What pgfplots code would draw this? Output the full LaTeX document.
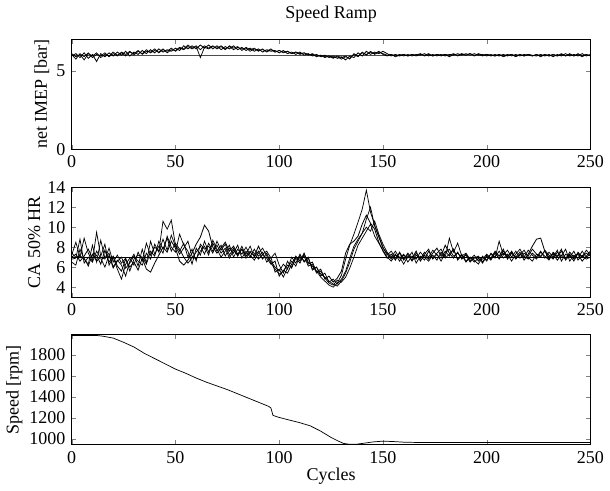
\documentclass[border=0pt]{standalone}
\usepackage{fontspec}
\setmainfont{Liberation Serif}
\usepackage{pgfplots}
\usepackage{pgfplotstable}
\pgfplotsset{compat=1.18}

\pgfplotstableread{
x a b c
0 6.05 5.95 6.10
2 5.75 6.10 5.90
4 6.10 5.85 6.05
6 5.90 6.15 5.70
8 6.15 5.80 6.10
10 5.85 6.05 5.95
12 6.05 5.60 6.15
14 5.95 6.10 5.85
16 6.15 5.90 6.05
18 5.90 6.15 5.95
20 6.10 5.95 6.20
22 5.95 6.20 6.00
24 6.20 6.00 6.15
26 6.05 6.25 5.95
28 6.25 5.95 6.20
30 6.00 6.20 6.10
32 6.25 6.05 6.30
34 6.10 6.30 6.05
36 6.35 6.10 6.25
38 6.15 6.35 6.20
40 6.30 6.15 6.40
42 6.20 6.40 6.15
44 6.40 6.20 6.35
46 6.15 6.35 6.25
48 6.35 6.25 6.45
50 6.30 6.45 6.25
52 6.50 6.30 6.45
54 6.40 6.60 6.35
56 6.65 6.40 6.55
58 6.45 6.60 6.40
60 6.60 6.40 6.55
62 6.35 6.65 5.85
64 6.60 6.45 6.50
66 6.45 6.65 6.40
68 6.60 6.40 6.55
70 6.40 6.60 6.45
72 6.55 6.35 6.60
74 6.35 6.55 6.40
76 6.60 6.40 6.55
78 6.45 6.60 6.35
80 6.55 6.35 6.50
82 6.30 6.50 6.40
84 6.50 6.30 6.45
86 6.35 6.45 6.25
88 6.45 6.25 6.40
90 6.25 6.40 6.30
92 6.40 6.20 6.35
94 6.20 6.35 6.25
96 6.35 6.25 6.40
98 6.20 6.30 6.20
100 6.30 6.15 6.30
102 6.15 6.30 6.20
104 6.25 6.10 6.25
106 6.10 6.20 6.10
108 6.20 6.05 6.20
110 6.05 6.20 6.10
112 6.15 6.00 6.15
114 6.00 6.10 6.05
116 6.10 5.95 6.05
118 5.95 6.05 5.90
120 6.00 5.90 6.00
122 5.90 6.00 5.85
124 5.95 5.85 5.95
126 5.85 5.95 5.80
128 5.90 5.80 5.95
130 5.75 5.90 5.85
132 5.90 5.70 5.95
134 5.80 5.95 5.75
136 6.05 5.85 6.10
138 5.90 6.15 5.95
140 6.20 5.95 6.15
142 6.00 6.25 6.05
144 6.25 6.05 6.20
146 6.05 6.20 6.10
148 6.20 6.10 6.25
150 6.10 6.25 6.05
152 6.00 6.10 5.95
154 6.05 5.95 6.05
156 5.95 6.05 5.90
158 6.05 5.95 6.00
160 5.95 6.05 6.05
162 6.05 5.95 5.95
164 5.95 6.05 6.05
166 6.05 6.00 5.95
168 6.00 6.10 6.05
170 6.10 5.95 6.00
172 5.95 6.05 6.10
174 6.05 5.95 5.95
176 5.95 6.05 6.05
178 6.05 6.00 5.95
180 5.95 6.05 6.05
182 6.05 5.90 6.00
184 6.00 6.05 6.10
186 6.10 6.00 5.95
188 6.00 6.10 6.05
190 6.10 6.00 6.00
192 6.00 6.10 6.10
194 6.10 5.95 6.00
196 6.00 6.10 6.05
198 6.05 6.00 5.95
200 5.95 6.05 6.05
202 6.05 5.95 6.00
204 5.95 6.05 5.95
206 6.05 5.95 6.05
208 5.95 6.05 5.90
210 6.05 5.95 6.00
212 5.95 6.05 6.05
214 6.05 5.90 5.95
216 5.95 6.05 6.05
218 6.05 5.95 5.95
220 6.00 6.05 6.05
222 5.95 6.00 5.95
224 6.05 5.95 6.05
226 5.95 6.05 5.90
228 6.05 5.95 6.05
230 5.95 6.05 5.95
232 6.05 5.90 6.05
234 5.95 6.05 5.95
236 6.05 5.95 6.10
238 5.95 6.10 5.95
240 6.10 5.95 6.05
242 5.95 6.05 5.95
244 6.05 5.95 6.10
246 5.90 6.10 5.95
248 6.05 5.95 6.05
250 5.95 6.05 5.95
}\imep

\pgfplotstableread{
x a b c d e
0 7.2 6.5 7.0 6.8 7.4
2 8.5 6.2 7.3 6.9 7.0
4 7.0 7.8 6.6 8.8 7.1
6 8.9 6.8 7.1 6.4 6.9
8 7.4 6.3 7.8 7.0 6.1
10 6.6 8.2 6.9 6.5 7.3
12 9.5 6.5 7.2 7.6 6.6
14 7.1 8.7 6.3 6.9 7.0
16 8.3 6.9 7.7 6.0 6.8
18 6.2 7.4 6.5 7.2 7.9
20 7.0 6.0 7.1 5.9 6.5
22 5.8 6.7 6.1 6.6 7.2
24 4.8 6.2 5.6 7.0 6.4
26 6.3 5.1 6.8 5.9 6.9
28 6.9 6.6 6.0 6.4 5.6
30 6.2 7.3 6.5 7.1 6.8
32 7.5 6.1 5.7 6.6 7.2
34 6.6 7.8 6.9 6.2 7.0
36 8.4 6.4 5.8 7.4 6.3
38 7.2 8.6 5.5 6.8 7.6
40 8.0 7.3 6.4 8.3 7.1
42 7.6 8.1 7.2 7.5 8.6
44 10.6 7.4 8.0 8.8 7.8
46 9.8 9.1 7.5 7.7 8.9
48 10.7 8.0 8.6 9.2 7.6
50 8.2 7.5 7.9 8.1 8.4
52 7.6 9.3 6.6 7.3 7.8
54 8.4 8.2 6.2 7.9 7.0
56 7.0 7.6 6.7 8.6 6.4
58 7.8 6.3 7.4 7.1 6.9
60 6.6 7.9 8.3 6.8 7.5
62 8.3 7.2 9.0 7.6 8.1
64 7.8 8.6 10.2 8.1 7.3
66 8.1 7.5 9.6 7.2 8.4
68 7.4 8.4 8.0 8.7 7.6
70 8.6 7.6 7.4 7.8 8.2
72 7.7 8.2 7.9 7.0 7.4
74 8.3 7.1 8.5 7.6 7.9
76 7.2 7.9 7.6 8.2 6.9
78 7.9 7.4 8.1 7.0 7.7
80 7.1 8.2 7.3 7.8 7.2
82 7.8 6.9 7.8 7.3 8.1
84 7.3 7.6 6.9 8.0 7.1
86 8.1 7.0 7.5 7.2 7.6
88 7.0 7.8 7.1 6.7 7.4
90 7.6 7.1 8.1 7.4 6.8
92 6.8 7.5 7.2 7.9 7.3
94 7.4 6.5 6.9 7.1 7.6
96 6.4 7.0 6.3 6.6 6.9
98 5.8 5.5 6.6 6.0 7.4
100 5.3 5.8 5.1 5.6 6.2
102 5.6 5.0 5.7 6.3 5.4
104 6.2 5.9 5.4 5.8 6.6
106 6.0 6.6 6.3 7.0 5.9
108 6.9 6.1 7.1 6.4 7.0
110 6.4 7.2 6.6 7.3 6.8
112 7.3 6.6 7.4 6.5 7.1
114 6.5 7.0 6.3 6.9 6.1
116 6.1 5.8 6.5 5.7 6.3
118 5.6 6.0 5.5 6.0 5.4
120 5.0 5.3 5.8 5.1 5.6
122 4.6 5.0 4.8 5.4 4.9
124 4.2 4.6 5.1 4.5 4.4
126 4.0 4.3 4.5 4.8 4.2
128 4.4 4.1 4.9 4.3 4.7
130 5.2 4.6 5.6 4.8 4.5
132 6.8 5.4 7.4 5.6 5.0
134 8.2 6.5 8.3 6.9 5.9
136 9.3 7.8 8.6 8.1 7.0
138 10.5 8.6 9.1 8.8 8.2
140 11.8 9.4 10.3 9.4 8.9
142 13.7 10.8 11.2 10.0 9.6
144 11.5 12.0 10.4 9.6 10.3
146 10.2 10.1 9.8 10.6 9.1
148 9.1 9.0 8.5 9.3 8.4
150 8.0 7.9 7.6 8.3 7.7
152 7.2 7.4 6.9 7.5 7.0
154 7.6 6.8 7.3 7.0 6.6
156 6.9 7.3 6.7 7.6 7.2
158 7.4 6.6 7.5 6.9 7.0
160 6.7 7.2 6.8 7.3 6.3
162 7.3 6.9 7.4 6.5 7.1
164 6.6 7.5 6.9 7.1 6.7
166 7.2 6.4 7.6 6.8 7.4
168 6.8 7.1 6.6 7.5 6.9
170 7.5 6.7 7.2 7.0 7.3
172 7.0 7.6 6.8 6.6 7.8
174 7.7 6.9 7.4 7.2 6.8
176 7.2 7.4 7.9 6.7 7.3
178 6.9 7.8 7.1 7.5 6.6
180 7.6 7.0 8.2 6.9 7.4
182 7.1 8.9 7.4 7.3 7.8
184 7.8 7.5 6.9 7.8 7.1
186 6.8 8.4 7.5 6.7 7.4
188 7.3 7.1 6.8 7.2 6.9
190 6.6 7.4 7.3 6.5 7.2
192 7.0 6.8 6.6 7.0 6.5
194 6.5 7.2 6.9 6.7 7.0
196 6.9 6.6 7.1 6.3 6.7
198 6.4 7.0 6.5 7.1 6.8
200 7.1 6.7 7.2 6.6 7.3
202 6.7 7.3 6.8 7.4 6.9
204 7.4 6.9 7.6 7.0 7.5
206 6.9 8.6 7.1 7.6 6.8
208 7.6 7.2 7.8 6.9 7.4
210 7.1 7.7 6.8 7.3 7.0
212 7.5 7.0 7.4 6.6 7.6
214 6.8 7.6 7.0 7.3 6.9
216 7.3 6.9 7.5 7.8 7.2
218 7.0 7.4 6.7 7.1 7.7
220 7.7 7.1 7.3 6.8 7.0
222 7.2 7.8 8.1 7.4 6.6
224 6.8 7.3 8.8 7.0 7.3
226 7.5 7.0 8.9 7.6 7.1
228 7.1 7.7 7.6 6.9 7.6
230 6.7 7.2 7.0 7.5 6.8
232 7.4 6.8 7.3 7.0 7.5
234 7.0 7.5 6.7 7.7 7.1
236 7.6 7.1 7.2 6.6 7.8
238 6.9 7.8 6.8 7.3 6.7
240 7.3 6.6 7.5 7.0 7.2
242 6.8 7.2 7.0 7.6 6.6
244 7.5 6.9 7.3 6.7 7.4
246 7.0 7.6 6.6 7.2 7.0
248 7.4 7.0 7.1 6.8 7.7
250 7.1 7.3 7.6 7.0 7.2
}\cafifty

\pgfplotstableread{
x y
0 1985
12 1985
15 1978
20 1960
25 1920
30 1875
35 1815
40 1765
45 1715
50 1665
55 1625
60 1580
65 1540
70 1505
75 1470
80 1430
85 1390
90 1350
95 1310
96 1295
97 1225
100 1205
105 1180
110 1155
115 1125
120 1075
125 1015
128 985
131 958
134 950
137 950
140 958
145 972
150 980
155 976
160 970
170 966
200 967
250 966
}\speed

\pgfplotsset{
  mstyle/.style={
    scale only axis, width=288pt, height=61pt,
    xmin=0, xmax=250, xtick={0,50,...,250},
    tick align=inside, major tick length=2.5pt,
    axis line style={line width=0.5pt},
    /pgf/number format/assume math mode=true,
    /pgf/number format/1000 sep={},
    ticklabel style={font=\normalsize},
    label style={font=\normalsize},
    cycle list={{black, no markers, line width=0.45pt}},
    ylabel shift=-3pt,
  }
}

\begin{document}
\begin{tikzpicture}
\begin{axis}[mstyle, at={(0,0)}, anchor=north west,
  ymin=0, ymax=7, ytick={0,5},
  ylabel={net IMEP [bar]}, title={Speed Ramp}]
\addplot[black!70, no markers, line width=0.5pt] coordinates {(0,6) (250,6)};
\addplot table[x=x,y=a] {\imep};
\addplot table[x=x,y=b] {\imep};
\addplot table[x=x,y=c] {\imep};
\end{axis}
\begin{axis}[mstyle, at={(0,-82pt)}, anchor=north west,
  ymin=3, ymax=14, ytick={4,6,...,14},
  ylabel={CA 50\% HR}]
\addplot table[x=x,y=a] {\cafifty};
\addplot table[x=x,y=b] {\cafifty};
\addplot table[x=x,y=c] {\cafifty};
\addplot table[x=x,y=d] {\cafifty};
\addplot table[x=x,y=e] {\cafifty};
\addplot[black, no markers, line width=0.6pt] coordinates {(0,7) (250,7)};
\end{axis}
\begin{axis}[mstyle, at={(0,-164pt)}, anchor=north west,
  ymin=945, ymax=1990, ytick={1000,1200,...,1800},
  ylabel={Speed [rpm]}, xlabel={Cycles}, xlabel shift=-4pt]
\addplot table[x=x,y=y] {\speed};
\end{axis}
\end{tikzpicture}
\end{document}
